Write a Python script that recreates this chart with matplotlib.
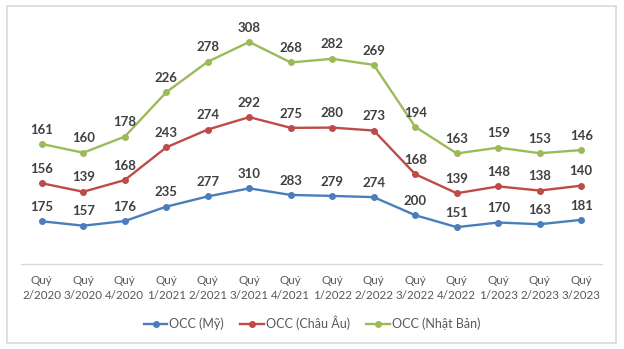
import matplotlib.pyplot as plt
import numpy as np
from matplotlib.patches import Rectangle

# Data (stacked line chart: each series drawn on top of the previous)
quarters = ["Quý\n2/2020", "Quý\n3/2020", "Quý\n4/2020", "Quý\n1/2021", "Quý\n2/2021",
            "Quý\n3/2021", "Quý\n4/2021", "Quý\n1/2022", "Quý\n2/2022", "Quý\n3/2022",
            "Quý\n4/2022", "Quý\n1/2023", "Quý\n2/2023", "Quý\n3/2023"]
occ_my = [175, 157, 176, 235, 277, 310, 283, 279, 274, 200, 151, 170, 163, 181]
occ_chau_au = [156, 139, 168, 243, 274, 292, 275, 280, 273, 168, 139, 148, 138, 140]
occ_nhat_ban = [161, 160, 178, 226, 278, 308, 268, 282, 269, 194, 163, 159, 153, 146]

series = [
    ("OCC (Mỹ)", occ_my, "#4A7EBB"),
    ("OCC (Châu Âu)", occ_chau_au, "#BE4B48"),
    ("OCC (Nhật Bản)", occ_nhat_ban, "#9BBB59"),
]

plt.rcParams['font.family'] = ['Lato', 'DejaVu Sans']

fig = plt.figure(figsize=(6.24, 3.49), dpi=100)
fig.patches.append(Rectangle((7 / 624, 1 - 343 / 349), 609 / 624, 337 / 349,
                             transform=fig.transFigure, fill=False,
                             edgecolor="#D9D9D9", linewidth=1.2))
ax = fig.add_axes([21 / 624, 1 - 264 / 349, 581 / 624, 244 / 349])

x = np.arange(len(quarters))
base = np.zeros(len(quarters))
for name, vals, color in series:
    top = base + np.array(vals)
    ax.plot(x, top, color=color, linewidth=1.7, marker='o', markersize=4, label=name)
    for xi, yi, v in zip(x, top, vals):
        ax.annotate(str(v), (xi, yi), xytext=(0, 6), textcoords='offset points',
                    ha='center', va='bottom', fontsize=9.5, fontweight='bold',
                    color='#404040')
    base = top

ax.set_xlim(-0.5, len(quarters) - 0.5)
ax.set_ylim(0, 1000)
ax.set_yticks([])
ax.set_xticks(x)
ax.set_xticklabels(quarters, fontsize=8.4, color='#595959', linespacing=1.45)
ax.tick_params(axis='x', length=0, pad=8)
for side in ['top', 'right', 'left']:
    ax.spines[side].set_visible(False)
ax.spines['bottom'].set_color('#D9D9D9')
ax.spines['bottom'].set_linewidth(1.0)

fig.legend(loc='center', bbox_to_anchor=(0.5, 1 - 323 / 349), ncol=3, frameon=False,
           fontsize=9, labelcolor='#595959', handlelength=1.9, columnspacing=1.3,
           handletextpad=0.15)

fig.savefig("out.png", dpi=100)
